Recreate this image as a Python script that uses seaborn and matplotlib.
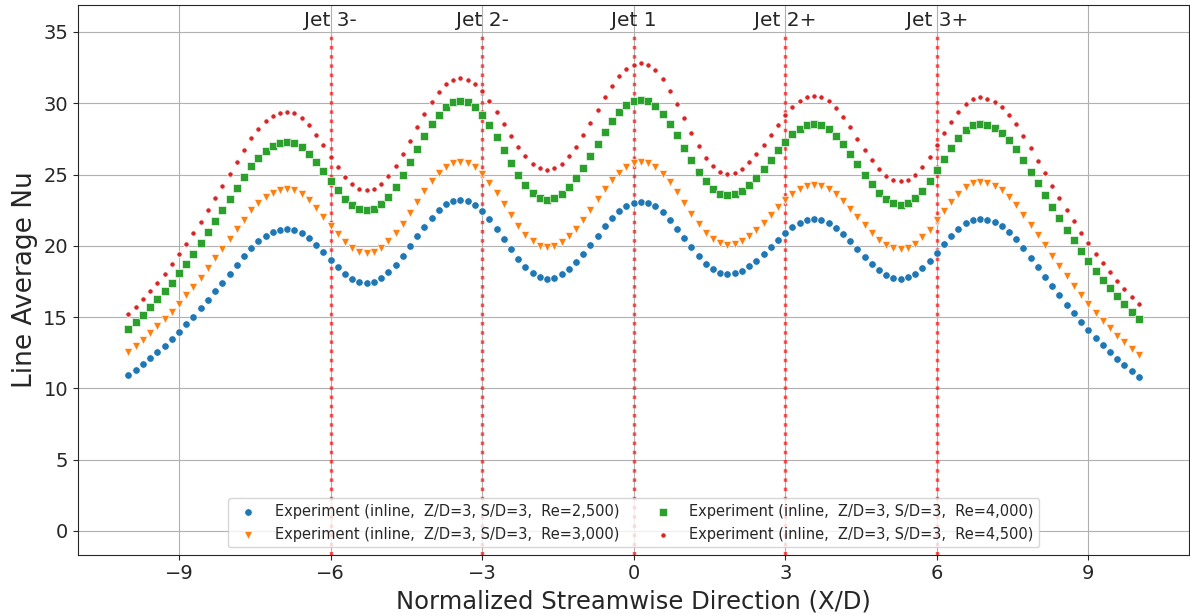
"""Line-averaged Nusselt number along the streamwise direction, inline jet array."""
import numpy as np
import matplotlib
matplotlib.use('Agg')
import matplotlib.pyplot as plt
import seaborn as sns

# streamwise stations X/D (141 stations, step 1/7)
xd = np.linspace(-10, 10, 141)

nu_re2500 = [
    10.92, 11.29, 11.68, 12.09, 12.52, 12.97, 13.44, 13.94, 14.48, 15.03, 15.60, 16.20, 16.80, 17.42, 18.03, 18.65, 19.25, 19.83, 20.31, 20.69, 20.96, 21.10, 21.17,
    21.09, 20.87, 20.52, 20.06, 19.55, 19.01, 18.50, 18.04, 17.69, 17.47, 17.39,
    17.48, 17.72, 18.13, 18.65, 19.27, 19.96, 20.66, 21.35, 21.97, 22.49, 22.90, 23.14, 23.23,
    23.14, 22.86, 22.42, 21.85, 21.18, 20.46, 19.75, 19.08, 18.50, 18.06, 17.78, 17.69,
    17.77, 18.00, 18.37, 18.86, 19.43, 20.07, 20.72, 21.36, 21.93, 22.42, 22.79, 23.02, 23.10,
    23.01, 22.76, 22.36, 21.83, 21.21, 20.55, 19.89, 19.28, 18.75, 18.34, 18.09, 18.00,
    18.07, 18.26, 18.56, 18.96, 19.43, 19.93, 20.42, 20.89, 21.29, 21.59, 21.79, 21.85,
    21.78, 21.57, 21.24, 20.81, 20.31, 19.78, 19.24, 18.74, 18.31, 17.98, 17.77, 17.70,
    17.78, 18.03, 18.43, 18.93, 19.50, 20.10, 20.67, 21.17, 21.57, 21.82, 21.90,
    21.82, 21.67, 21.38, 20.97, 20.45, 19.82, 19.17, 18.50, 17.84, 17.17, 16.52, 15.87, 15.25, 14.65, 14.07, 13.53, 13.02, 12.53, 12.07, 11.62, 11.20, 10.80,
]
nu_re3000 = [
    12.56, 12.97, 13.40, 13.86, 14.34, 14.84, 15.37, 15.93, 16.52, 17.14, 17.77, 18.44, 19.11, 19.79, 20.48, 21.16, 21.84, 22.48, 23.01, 23.43, 23.73, 23.89, 23.97,
    23.88, 23.62, 23.20, 22.66, 22.05, 21.41, 20.80, 20.27, 19.84, 19.58, 19.49,
    19.59, 19.86, 20.30, 20.88, 21.55, 22.31, 23.08, 23.84, 24.52, 25.09, 25.54, 25.80, 25.90,
    25.80, 25.50, 25.02, 24.40, 23.67, 22.90, 22.13, 21.40, 20.78, 20.30, 20.00, 19.90,
    19.99, 20.24, 20.66, 21.20, 21.83, 22.54, 23.26, 23.97, 24.60, 25.14, 25.56, 25.81, 25.90,
    25.80, 25.51, 25.05, 24.44, 23.74, 22.99, 22.23, 21.53, 20.92, 20.46, 20.17, 20.07,
    20.14, 20.35, 20.68, 21.12, 21.63, 22.17, 22.71, 23.22, 23.66, 23.99, 24.20, 24.27,
    24.19, 23.97, 23.61, 23.15, 22.60, 22.02, 21.44, 20.90, 20.43, 20.07, 19.85, 19.77,
    19.86, 20.14, 20.58, 21.14, 21.78, 22.45, 23.09, 23.65, 24.09, 24.37, 24.46,
    24.38, 24.21, 23.89, 23.44, 22.87, 22.19, 21.47, 20.75, 20.02, 19.29, 18.57, 17.87, 17.19, 16.53, 15.90, 15.31, 14.75, 14.21, 13.70, 13.22, 12.76, 12.32,
]
nu_re4000 = [
    14.19, 14.66, 15.16, 15.68, 16.23, 16.81, 17.41, 18.06, 18.74, 19.44, 20.18, 20.94, 21.71, 22.50, 23.28, 24.07, 24.84, 25.57, 26.19, 26.67, 27.02, 27.20, 27.29,
    27.19, 26.91, 26.46, 25.88, 25.23, 24.54, 23.89, 23.31, 22.86, 22.58, 22.48,
    22.60, 22.92, 23.45, 24.14, 24.96, 25.87, 26.79, 27.70, 28.52, 29.21, 29.74, 30.07, 30.18,
    30.06, 29.71, 29.17, 28.44, 27.60, 26.71, 25.81, 24.97, 24.25, 23.70, 23.35, 23.23,
    23.34, 23.63, 24.12, 24.75, 25.49, 26.32, 27.16, 27.99, 28.73, 29.37, 29.85, 30.15, 30.25,
    30.14, 29.80, 29.27, 28.57, 27.76, 26.89, 26.02, 25.21, 24.51, 23.98, 23.64, 23.53,
    23.62, 23.87, 24.26, 24.79, 25.39, 26.04, 26.69, 27.30, 27.82, 28.21, 28.47, 28.55,
    28.45, 28.17, 27.72, 27.13, 26.45, 25.72, 24.98, 24.30, 23.71, 23.26, 22.98, 22.88,
    22.99, 23.33, 23.86, 24.54, 25.31, 26.12, 26.89, 27.57, 28.10, 28.44, 28.55,
    28.45, 28.26, 27.91, 27.40, 26.76, 26.00, 25.19, 24.37, 23.55, 22.73, 21.93, 21.13, 20.37, 19.63, 18.92, 18.25, 17.62, 17.02, 16.45, 15.90, 15.38, 14.89,
]
nu_re4500 = [
    15.20, 15.71, 16.25, 16.82, 17.42, 18.04, 18.70, 19.39, 20.13, 20.90, 21.69, 22.52, 23.36, 24.21, 25.06, 25.91, 26.75, 27.55, 28.22, 28.74, 29.11, 29.31, 29.41,
    29.30, 28.97, 28.45, 27.79, 27.04, 26.25, 25.50, 24.84, 24.32, 23.99, 23.88,
    24.00, 24.33, 24.87, 25.58, 26.42, 27.35, 28.30, 29.23, 30.07, 30.78, 31.32, 31.65, 31.77,
    31.66, 31.34, 30.83, 30.16, 29.38, 28.55, 27.72, 26.94, 26.27, 25.76, 25.44, 25.33,
    25.44, 25.76, 26.27, 26.95, 27.74, 28.63, 29.52, 30.41, 31.20, 31.88, 32.39, 32.71, 32.82,
    32.69, 32.30, 31.69, 30.88, 29.94, 28.94, 27.93, 26.99, 26.18, 25.57, 25.18, 25.05,
    25.14, 25.42, 25.85, 26.42, 27.08, 27.79, 28.50, 29.16, 29.73, 30.16, 30.44, 30.53,
    30.43, 30.13, 29.65, 29.03, 28.30, 27.52, 26.74, 26.02, 25.39, 24.91, 24.61, 24.51,
    24.63, 24.98, 25.53, 26.24, 27.04, 27.88, 28.68, 29.39, 29.94, 30.29, 30.41,
    30.31, 30.11, 29.73, 29.19, 28.51, 27.69, 26.84, 25.96, 25.09, 24.22, 23.36, 22.52, 21.71, 20.92, 20.17, 19.45, 18.79, 18.15, 17.54, 16.96, 16.40, 15.88,
]

labels = [
    'Experiment (inline,  Z/D=3, S/D=3,  Re=2,500)',
    'Experiment (inline,  Z/D=3, S/D=3,  Re=3,000)',
    'Experiment (inline,  Z/D=3, S/D=3,  Re=4,000)',
    'Experiment (inline,  Z/D=3, S/D=3,  Re=4,500)',
]
jet_pos = [-6, -3, 0, 3, 6]
jet_names = ['Jet 3-', 'Jet 2-', 'Jet 1', 'Jet 2+', 'Jet 3+']

sns.set_style('ticks')
plt.rcParams['font.family'] = ['DejaVu Sans']

fig, ax = plt.subplots(figsize=(11.9, 6.15), dpi=100)
fig.subplots_adjust(left=0.0655, right=0.9995, top=0.992, bottom=0.098)

series = [
    (nu_re2500, 'o', '#1f77b4', 28),
    (nu_re3000, 'v', '#ff7f0e', 34),
    (nu_re4000, 's', '#2ca02c', 28),
    (nu_re4500, '.', '#d62728', 60),
]
for (vals, mk, col, size), lab in zip(series, labels):
    sns.scatterplot(x=xd, y=vals, marker=mk, color=col, s=size, label=lab, ax=ax, zorder=3)

ax.set_xlim(-11, 11)
ax.set_ylim(-1.68, 36.9)
for xp, name in zip(jet_pos, jet_names):
    ax.vlines(xp, -1.68, 35, colors='red', linestyles=':', linewidth=2.5, alpha=0.65, zorder=2)
    ax.text(xp, 35.15, name, ha='center', va='bottom', fontsize=14.5)

ax.set_xticks([-9, -6, -3, 0, 3, 6, 9])
ax.set_yticks(range(0, 36, 5))
ax.tick_params(labelsize=14)
ax.grid(True, color='#b0b0b0', linewidth=0.8)
ax.set_xlabel('Normalized Streamwise Direction (X/D)', fontsize=17.5)
ax.set_ylabel('Line Average Nu', fontsize=19)
ax.legend(loc='lower center', ncol=2, fontsize=10.5)

fig.savefig('out.png', dpi=100)
